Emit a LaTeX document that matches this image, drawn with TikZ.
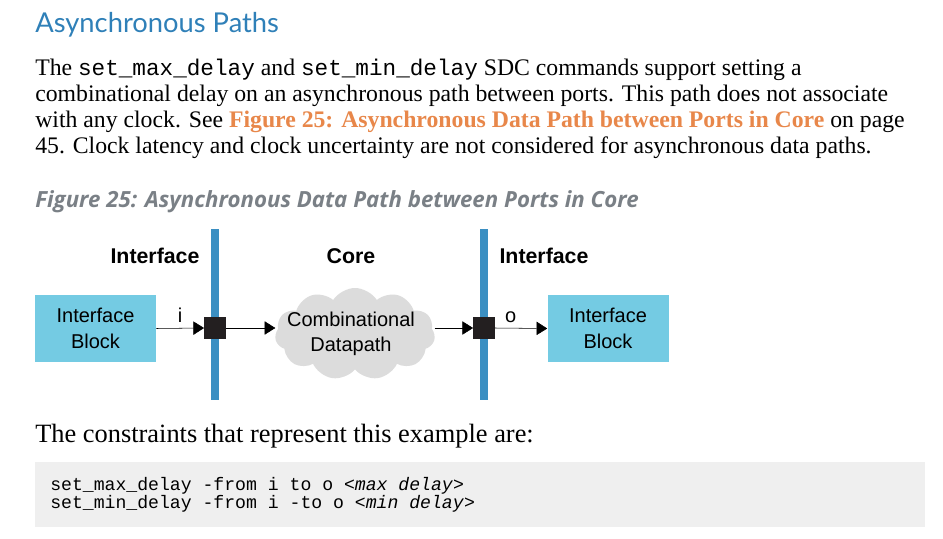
\documentclass[tikz,border=0pt]{standalone}
\usepackage{fontspec}
\setmainfont{Liberation Serif}
\setsansfont{Liberation Sans}
\setmonofont{Liberation Mono}
\newfontfamily\headfont{Lato}
\newfontfamily\captionfont{Open Sans}
\usepackage{xcolor}
\usetikzlibrary{arrows.meta,shapes.symbols,positioning}
\definecolor{headblue}{HTML}{2F80B8}
\definecolor{barblue}{HTML}{3B8FC2}
\definecolor{blockcyan}{HTML}{74CBE3}
\definecolor{linkorange}{HTML}{E8874A}
\definecolor{captiongray}{HTML}{7A8086}
\definecolor{cloudgray}{HTML}{DCDCDC}
\definecolor{codegray}{HTML}{EFEFEF}
\definecolor{portblack}{HTML}{231F20}
\tikzset{
    body-line/.style = {anchor=base west, inner sep=0pt, font=\fontsize{17.8}{20}\selectfont},
    zone-label/.style = {font=\sffamily\bfseries\fontsize{16}{19}\selectfont},
    if-block/.style = {fill=blockcyan, minimum width=90.75pt, minimum height=50.25pt, align=center, inner sep=0pt, font=\sffamily\fontsize{15}{19.5}\selectfont},
    port/.style = {fill=portblack, minimum size=16pt, inner sep=0pt},
    datapath-cloud/.style = {cloud, cloud puffs=11, cloud puff arc=115, cloud ignores aspect, fill=cloudgray, minimum width=120pt, minimum height=69pt, inner sep=0pt},
    cloud-text/.style = {align=center, inner sep=0pt, font=\sffamily\fontsize{15}{19}\selectfont},
    flow/.style = {-{Triangle[length=8pt, width=10pt]}, thin},
    port-label/.style = {font=\sffamily\fontsize{15}{18}\selectfont, inner sep=1pt},
    code-line/.style = {anchor=base west, inner sep=0pt, font=\ttfamily\fontsize{13.6}{16}\selectfont},
}
\newcommand{\sdccmd}[1]{{\ttfamily\fontsize{17}{20}\selectfont #1}}

\begin{document}
\begin{tikzpicture}[x=0.75pt, y=-0.75pt]
\useasboundingbox (0,0) rectangle (943,539);
\fill[white] (0,0) rectangle (943,539);

% heading and text
\node[anchor=base west, inner sep=0pt, text=headblue, font=\headfont\fontsize{20.5}{24}\selectfont] (title) at (35,32) {Asynchronous Paths};
\node[body-line] (line1) at (35,75) {The \sdccmd{set\_max\_delay} and \sdccmd{set\_min\_delay} SDC commands support setting a};
\node[body-line] (line2) at (35,101) {combinational delay on an asynchronous path between ports. This path does not associate};
\node[body-line] (line3) at (35,127) {with any clock. See \textcolor{linkorange}{\textbf{Figure 25: Asynchronous Data Path between Ports in Core}} on page};
\node[body-line] (line4) at (35,153) {45. Clock latency and clock uncertainty are not considered for asynchronous data paths.};

% caption
\node[anchor=base west, inner sep=0pt, text=captiongray, font=\captionfont\bfseries\itshape\fontsize{16.7}{19}\selectfont] (caption) at (35,207) {Figure 25: Asynchronous Data Path between Ports in Core};

% boundaries
\draw[barblue, line width=6pt] (215,229) -- (215,400);
\draw[barblue, line width=6pt] (484,229) -- (484,400);

\node[zone-label] (ifleft) at (155,256) {Interface};
\node[zone-label] (core) at (351,256) {Core};
\node[zone-label] (ifright) at (544,256) {Interface};

\node[if-block] (leftblock) at (95.5,328.5) {Interface\\Block};
\node[if-block] (rightblock) at (608,328.5) {Interface\\Block};
\node[port] (portin) at (215,328) {};
\node[port] (portout) at (484,328) {};
\node[datapath-cloud] (datapath) at (355,334) {};
\node[cloud-text] (datapath-text) at (351,334) {Combinational\\Datapath};

\draw[flow] (leftblock.east) -- node[port-label, above=3pt] {i} (portin.west);
\draw[flow] (portin.east) -- (datapath.west |- portin);
\draw[flow] (datapath.east |- portout) -- (portout.west);
\draw[flow] (portout.east) -- node[port-label, above=3pt, pos=0.3] {o} (rightblock.west);

% constraints
\node[body-line, font=\fontsize{19.8}{22}\selectfont] (constraints) at (35,442) {The constraints that represent this example are:};
\node[fill=codegray, minimum width=667.5pt, minimum height=48.75pt, inner sep=0pt, anchor=north west] (codebox) at (35,462) {};
\node[code-line] (code1) at (50,490) {set\_max\_delay -from i to o <\textit{max delay}>};
\node[code-line] (code2) at (50,508) {set\_min\_delay -from i -to o <\textit{min delay}>};
\end{tikzpicture}
\end{document}
